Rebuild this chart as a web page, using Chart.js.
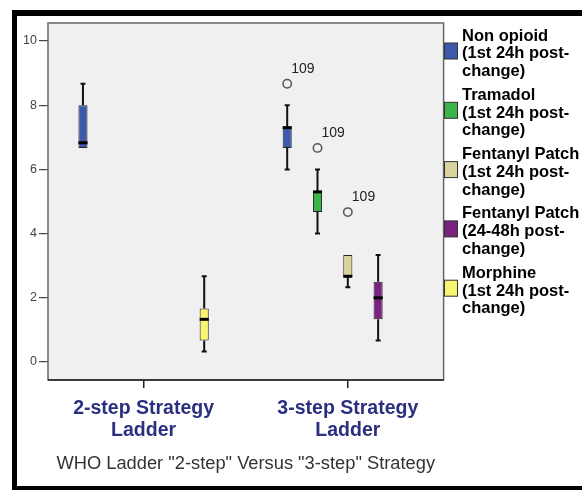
<!DOCTYPE html>
<html lang="en">
<head>
<meta charset="UTF-8">
<title>WHO Ladder 2-step vs 3-step</title>
<style>
  html, body { margin: 0; padding: 0; background: #fff; }
  #wrap { width: 582px; height: 490px; }
</style>
<script src="https://cdn.jsdelivr.net/npm/chart.js"></script>
</head>
<body>
<div id="wrap"><canvas id="box-chart"></canvas></div>
<script>
// categories on the x axis
const strategies = [['2-step Strategy', 'Ladder'], ['3-step Strategy', 'Ladder']];
const xTitle = 'WHO Ladder "2-step" Versus "3-step" Strategy';
const yTicks = [0, 2, 4, 6, 8, 10];

// one row per drug, [2-step, 3-step]; null = no box
const drugNames = [
  ['Non opioid', '(1st 24h post-', 'change)'],
  ['Tramadol', '(1st 24h post-', 'change)'],
  ['Fentanyl Patch', '(1st 24h post-', 'change)'],
  ['Fentanyl Patch', '(24-48h post-', 'change)'],
  ['Morphine', '(1st 24h post-', 'change)']
];
const drugColors = ['#3d59ab', '#3bb54a', '#d9d39b', '#7b2181', '#f9f36e'];
const lows     = [[6.67, 6.00], [null, 4.00], [null, 2.33], [null, 0.67], [0.33, null]];
const q1s      = [[6.67, 6.67], [null, 4.67], [null, 2.67], [null, 1.33], [0.67, null]];
const medians  = [[6.83, 7.30], [null, 5.30], [null, 2.67], [null, 2.00], [1.33, null]];
const q3s      = [[8.00, 7.33], [null, 5.33], [null, 3.33], [null, 2.50], [1.67, null]];
const highs    = [[8.67, 8.00], [null, 6.00], [null, 3.33], [null, 3.33], [2.67, null]];
const outliers = [[null, 8.67], [null, 6.67], [null, 4.67], [null, null], [null, null]];
const outlierCase = '109';

// box (q1..q3) as floating bars
const datasets = drugNames.map((name, d) => ({
  label: name.join(' '),
  data: strategies.map((s, i) => q1s[d][i] == null ? null : { x: i, y: [q1s[d][i], q3s[d][i]] }).filter(p => p),
  backgroundColor: drugColors[d],
  borderColor: '#222',
  borderWidth: 1,
  borderSkipped: false,
  barPercentage: 0.3,
  categoryPercentage: 0.742
}));

// whiskers, medians, outliers, frame and legend
const boxParts = {
  id: 'boxParts',
  beforeDraw(chart) {
    const { ctx, chartArea: a, width, height } = chart;
    ctx.save();
    ctx.fillStyle = '#fff';
    ctx.fillRect(0, 0, width, height);
    ctx.fillStyle = '#000';
    ctx.fillRect(12, 10, width - 12, 6);
    ctx.fillRect(12, 10, 5, height - 10);
    ctx.fillRect(12, 486, width - 12, 4);
    ctx.fillStyle = '#f0f0f0';
    ctx.fillRect(a.left, a.top, a.right - a.left, a.bottom - a.top);
    ctx.restore();
  },
  afterDatasetsDraw(chart) {
    const { ctx, chartArea: a } = chart;
    const y = chart.scales.y;
    ctx.save();
    chart.data.datasets.forEach((ds, d) => {
      const meta = chart.getDatasetMeta(d);
      ds.data.forEach((p, j) => {
        const i = p.x;
        const bar = meta.data[j];
        const cx = bar.x, half = bar.width / 2;
        const yq1 = y.getPixelForValue(q1s[d][i]);
        const yq3 = y.getPixelForValue(q3s[d][i]);
        const ylo = y.getPixelForValue(lows[d][i]);
        const yhi = y.getPixelForValue(highs[d][i]);
        const ymed = y.getPixelForValue(medians[d][i]);
        ctx.strokeStyle = '#111';
        ctx.lineWidth = 2;
        ctx.beginPath();
        if (yhi < yq3 - 0.5) {
          ctx.moveTo(cx, yq3); ctx.lineTo(cx, yhi);
          ctx.moveTo(cx - 2.5, yhi); ctx.lineTo(cx + 2.5, yhi);
        }
        if (ylo > yq1 + 0.5) {
          ctx.moveTo(cx, yq1); ctx.lineTo(cx, ylo);
          ctx.moveTo(cx - 2.5, ylo); ctx.lineTo(cx + 2.5, ylo);
        }
        ctx.stroke();
        ctx.lineWidth = 3;
        ctx.strokeStyle = '#000';
        ctx.beginPath();
        ctx.moveTo(cx - half, ymed); ctx.lineTo(cx + half, ymed);
        ctx.stroke();
        if (outliers[d][i] != null) {
          const yo = y.getPixelForValue(outliers[d][i]);
          ctx.lineWidth = 1.5;
          ctx.strokeStyle = '#555';
          ctx.beginPath();
          ctx.arc(cx, yo, 4.2, 0, Math.PI * 2);
          ctx.stroke();
          ctx.fillStyle = '#222';
          ctx.font = '14px "Liberation Sans", Arial, sans-serif';
          ctx.textBaseline = 'middle';
          ctx.textAlign = 'left';
          ctx.fillText(outlierCase, cx + 4, yo - 15);
        }
      });
    });

    // plot frame
    ctx.lineWidth = 1.5;
    ctx.strokeStyle = '#666';
    ctx.strokeRect(a.left, a.top, a.right - a.left, a.bottom - a.top);
    ctx.strokeStyle = '#222';
    ctx.beginPath();
    ctx.moveTo(a.left, a.bottom); ctx.lineTo(a.right, a.bottom);
    ctx.stroke();

    // legend
    const lineH = 17.8, itemGap = 59.3, top0 = 36;
    ctx.font = 'bold 16.5px "Liberation Sans", Arial, sans-serif';
    ctx.textBaseline = 'middle';
    ctx.textAlign = 'left';
    drugNames.forEach((lines, d) => {
      const ty = top0 + d * itemGap;
      ctx.fillStyle = drugColors[d];
      ctx.fillRect(444.5, ty + 7, 13, 16);
      ctx.lineWidth = 1;
      ctx.strokeStyle = '#333';
      ctx.strokeRect(444.5, ty + 7, 13, 16);
      ctx.fillStyle = '#000';
      lines.forEach((t, k) => ctx.fillText(t, 462, ty + k * lineH));
    });
    ctx.restore();
  }
};

new Chart(document.getElementById('box-chart'), {
  type: 'bar',
  data: { datasets: datasets },
  options: {
    responsive: true,
    maintainAspectRatio: false,
    animation: false,
    layout: { padding: { left: 0, top: 23, right: 138.4, bottom: 0 } },
    plugins: { legend: { display: false }, tooltip: { enabled: false } },
    scales: {
      x: {
        type: 'linear',
        offset: false,
        min: -0.468,
        max: 1.469,
        afterBuildTicks: s => { s.ticks = strategies.map((c, i) => ({ value: i })); },
        afterFit: s => { s.height = 110; },
        grid: { offset: false, drawOnChartArea: false, tickLength: 8, color: '#222', lineWidth: 1.5 },
        border: { display: false },
        ticks: {
          callback: (v, i) => strategies[i],
          maxRotation: 0,
          autoSkip: false,
          padding: 10,
          color: '#2b2f80',
          font: { family: '"Liberation Sans", Arial, sans-serif', size: 19.5, weight: 'bold', lineHeight: '21.5px' }
        },
        title: {
          display: true,
          text: xTitle,
          color: '#333',
          padding: { top: 0, bottom: 15 },
          font: { family: '"Liberation Sans", Arial, sans-serif', size: 18.3 }
        }
      },
      y: {
        min: -0.56,
        max: 10.56,
        afterBuildTicks: s => { s.ticks = yTicks.map(v => ({ value: v })); },
        afterFit: s => { s.width = 48; },
        grid: { drawOnChartArea: false, tickLength: 9, color: '#444', lineWidth: 1.2 },
        border: { display: false },
        ticks: {
          padding: 2,
          color: '#444',
          font: { family: '"Liberation Sans", Arial, sans-serif', size: 12.5 }
        }
      }
    }
  },
  plugins: [boxParts]
});
</script>
</body>
</html>
